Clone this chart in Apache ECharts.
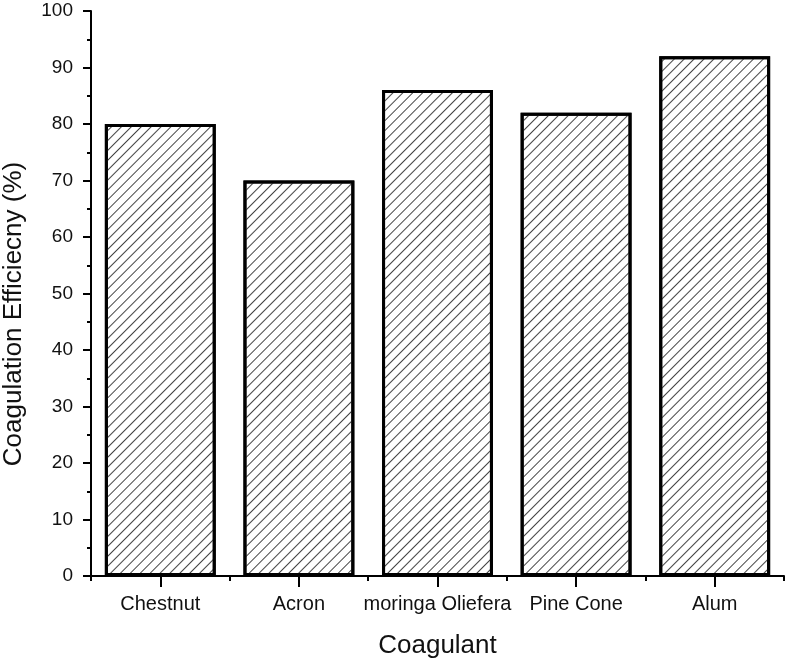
<!DOCTYPE html>
<html>
<head>
<meta charset="utf-8">
<script src="https://cdn.jsdelivr.net/npm/echarts@6/dist/echarts.min.js"></script>
<style>
html,body{margin:0;padding:0;background:#fff;}
#chart{width:787px;height:661px;}
</style>
</head>
<body>
<div id="chart"></div>
<script>
const categories = ['Chestnut', 'Acron', 'moringa Oliefera', 'Pine Cone', 'Alum'];
const efficiency = [80, 70, 86, 82, 92];
const yTitle = 'Coagulation Efficiecny (%)';
const xTitle = 'Coagulant';

const FONT = '"Liberation Sans", Arial, sans-serif';
const chart = echarts.init(document.getElementById('chart'), null, {renderer: 'canvas'});
chart.setOption({
  animation: false,
  backgroundColor: '#ffffff',
  grid: {left: 91, right: 3, top: 11, bottom: 85, containLabel: false, outerBoundsMode: 'none'},
  xAxis: [
    {
      type: 'category',
      data: categories,
      name: xTitle,
      nameLocation: 'middle',
      nameGap: 57,
      nameTextStyle: {fontFamily: FONT, fontSize: 26, color: '#111'},
      axisLine: {show: true, lineStyle: {color: '#000', width: 2}},
      axisTick: {show: true, alignWithLabel: true, length: 11, lineStyle: {color: '#000', width: 2}},
      axisLabel: {fontFamily: FONT, fontSize: 20, color: '#111', margin: 18, interval: 0},
      splitLine: {show: false}
    },
    {
      type: 'category',
      data: categories,
      position: 'bottom',
      axisLine: {show: false},
      axisTick: {show: true, alignWithLabel: false, length: 5, lineStyle: {color: '#000', width: 2}},
      axisLabel: {show: false},
      splitLine: {show: false}
    }
  ],
  yAxis: {
    type: 'value',
    min: 0,
    max: 100,
    interval: 10,
    axisLine: {show: true, lineStyle: {color: '#000', width: 2}},
    axisTick: {show: true, length: 8, lineStyle: {color: '#000', width: 2}},
    minorTick: {show: true, splitNumber: 2, length: 4, lineStyle: {color: '#000', width: 2}},
    axisLabel: {fontFamily: FONT, fontSize: 19, color: '#111', margin: 18},
    splitLine: {show: false}
  },
  graphic: [
    {
      type: 'text',
      x: 1,
      y: 314,
      rotation: Math.PI / 2,
      style: {
        text: yTitle,
        fontFamily: FONT,
        fontSize: 26,
        fill: '#111',
        align: 'center',
        verticalAlign: 'top'
      }
    }
  ],
  series: [
    {
      type: 'bar',
      xAxisIndex: 0,
      data: efficiency,
      barCategoryGap: '20%',
      itemStyle: {
        color: '#ffffff',
        borderColor: '#000',
        borderWidth: 3,
        decal: {
          symbol: 'rect',
          symbolSize: 1,
          dashArrayX: [1, 0],
          dashArrayY: [1, 5.5],
          rotation: -Math.PI / 4,
          color: '#444'
        }
      }
    }
  ]
});
</script>
</body>
</html>
